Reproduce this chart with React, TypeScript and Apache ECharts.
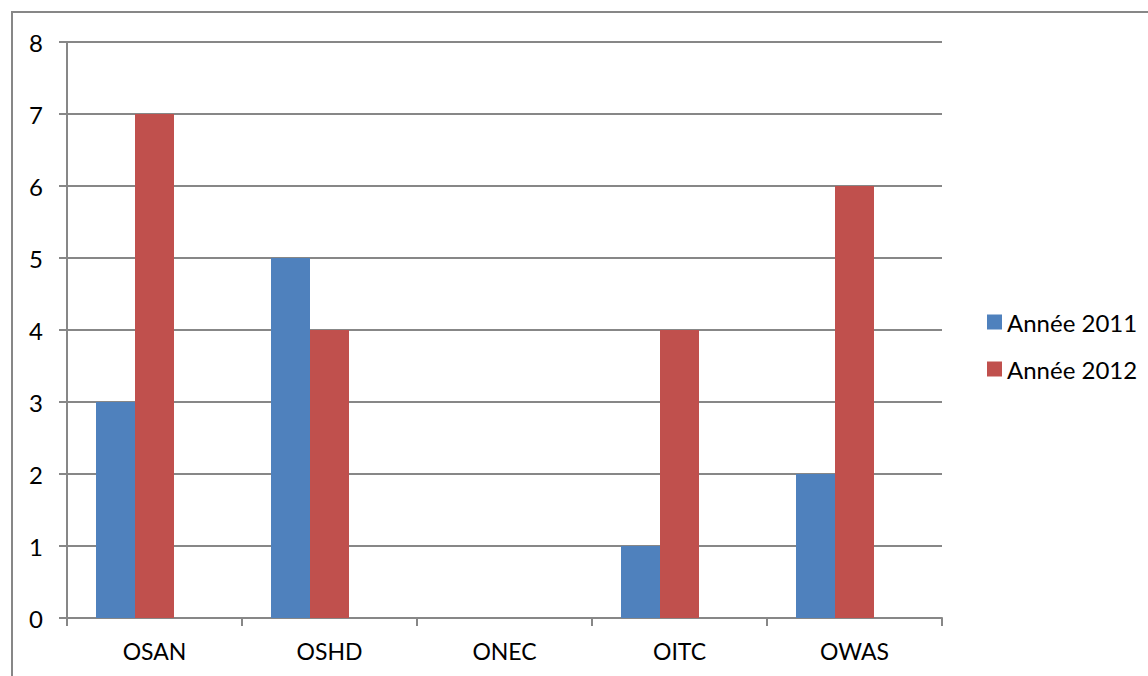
import React, { useEffect, useRef } from "react";
import * as echarts from "echarts";

const categories = ["OSAN", "OSHD", "ONEC", "OITC", "OWAS"];
const values2011 = [3, 5, 0, 1, 2];
const values2012 = [7, 4, 0, 4, 6];
const spacer = ["-", "-", "-", "-", "-"];
const seriesNames = ["Année 2011", "Année 2012"];

export default function App() {
  const ref = useRef<HTMLDivElement>(null);
  useEffect(() => {
    if (!ref.current) return;
    const chart = echarts.init(ref.current, null, { renderer: "svg" });
    const font = "Lato, 'Open Sans', sans-serif";
    const gray = "#878787";
    chart.setOption({
      animation: false,
      backgroundColor: "#ffffff",
      textStyle: { fontFamily: font },
      graphic: [
        {
          type: "rect",
          shape: { x: 12, y: 12, width: 1160, height: 700 },
          style: { fill: "none", stroke: gray, lineWidth: 2 },
          silent: true,
        },
      ],
      grid: { left: 67, right: 206, top: 42, bottom: 58 },
      legend: {
        orient: "vertical",
        left: 982,
        top: 305,
        data: seriesNames,
        itemWidth: 15,
        itemHeight: 15,
        itemGap: 23,
        itemTextGap: 6,
        icon: "rect",
        textStyle: { fontSize: 24, color: "#000", fontFamily: font },
      },
      xAxis: {
        type: "category",
        data: categories,
        axisLine: { show: true, lineStyle: { color: gray, width: 2 } },
        axisTick: { show: true, length: 8, alignWithLabel: false, lineStyle: { color: gray, width: 2 } },
        axisLabel: { color: "#000", fontSize: 23, margin: 21, fontFamily: font },
        splitLine: { show: false },
      },
      yAxis: {
        type: "value",
        min: 0,
        max: 8,
        interval: 1,
        axisLine: { show: true, lineStyle: { color: gray, width: 2 } },
        axisTick: { show: true, length: 8, lineStyle: { color: gray, width: 2 } },
        axisLabel: { color: "#000", fontSize: 24, margin: 24, fontFamily: font },
        splitLine: { show: true, lineStyle: { color: gray, width: 2 } },
      },
      series: [
        {
          name: seriesNames[0],
          type: "bar",
          data: values2011,
          barWidth: 39,
          barGap: "0%",
          itemStyle: { color: "#4F81BD" },
        },
        {
          name: seriesNames[1],
          type: "bar",
          data: values2012,
          barWidth: 39,
          barGap: "0%",
          itemStyle: { color: "#C0504D" },
        },
        {
          name: "spacer",
          type: "bar",
          data: spacer,
          barWidth: 39,
          barGap: "0%",
          itemStyle: { color: "transparent" },
        },
      ],
    });
    return () => chart.dispose();
  }, []);
  return (
    <div
      ref={ref}
      style={{ position: "absolute", left: 0, top: 0, width: 1148, height: 676 }}
    />
  );
}
